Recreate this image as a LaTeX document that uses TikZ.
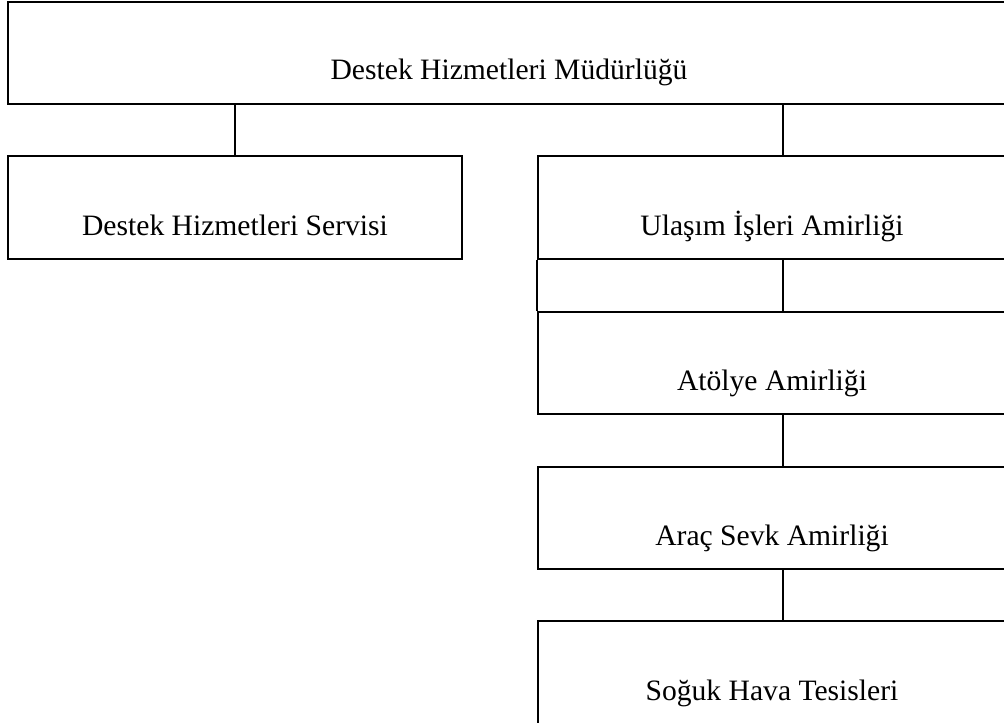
\documentclass[tikz,border=0pt]{standalone}
\usepackage{fontspec}
\setmainfont{Liberation Serif}
\begin{document}
\begin{tikzpicture}[x=0.5pt,y=-0.5pt,
  box/.style={draw,line width=1.15pt,rectangle,inner sep=0pt,anchor=north west},
  lbl/.style={font=\fontsize{14.8}{17}\selectfont,anchor=base,inner sep=0pt},
  conn/.style={line width=1.15pt}]
\useasboundingbox (0,0) rectangle (1004,722);
\clip (0,0) rectangle (1004,722);
\node[box,minimum width=503pt,minimum height=51pt] (top) at (7,1) {};
\node[box,minimum width=227pt,minimum height=51.5pt] (srv) at (7,155) {};
\node[box,minimum width=235pt,minimum height=51.5pt] (ulas) at (537,155) {};
\node[box,minimum width=235pt,minimum height=51pt] (atol) at (537,311) {};
\node[box,minimum width=235pt,minimum height=51pt] (arac) at (537,466) {};
\node[box,minimum width=235pt,minimum height=53pt] (sog) at (537,620) {};
\node[lbl] (ttop) at (509,80) {Destek Hizmetleri Müdürlüğü};
\node[lbl] (tsrv) at (235,235) {Destek Hizmetleri Servisi};
\node[lbl] (tulas) at (772,235) {Ulaşım İşleri Amirliği};
\node[lbl] (tatol) at (772,390) {Atölye Amirliği};
\node[lbl] (tarac) at (772,545) {Araç Sevk Amirliği};
\node[lbl] (tsog) at (772,700) {Soğuk Hava Tesisleri};
\draw[conn] (srv.north) -- (srv.north |- top.south);
\draw[conn] ([xshift=5pt]ulas.north) -- ([xshift=5pt]ulas.north |- top.south);
\draw[conn] (ulas.south west) -- (atol.north west);
\draw[conn] ([xshift=5pt]ulas.south) -- ([xshift=5pt]atol.north);
\draw[conn] ([xshift=5pt]atol.south) -- ([xshift=5pt]arac.north);
\draw[conn] ([xshift=5pt]arac.south) -- ([xshift=5pt]sog.north);
\end{tikzpicture}
\end{document}
